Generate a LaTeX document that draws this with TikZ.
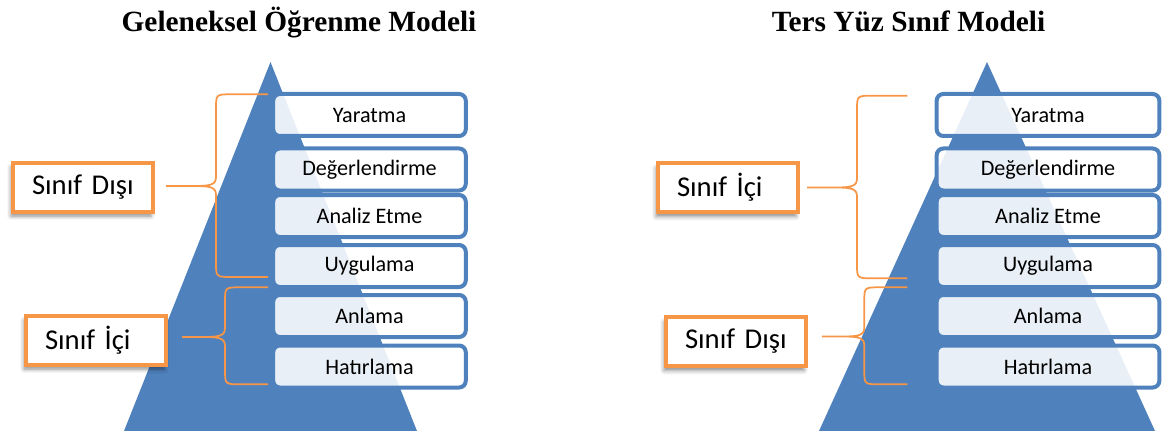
\documentclass[tikz,border=0pt]{standalone}
\usepackage{fontspec}
\setmainfont{Carlito}
\newfontfamily\baslikfont{Liberation Serif}
\usepackage{tikz}
\usetikzlibrary{calc,shadows,shadows.blur}
\definecolor{piramit}{RGB}{79,129,189}
\definecolor{turuncu}{RGB}{247,150,70}

\tikzset{
  kutu/.style={draw=piramit, line width=3pt, rounded corners=5pt, fill=white, fill opacity=0.88, text opacity=1,
    inner sep=0pt, minimum height=31.5pt, font=\fontsize{16.6}{19}\selectfont},
  etiket/.style={draw=turuncu, line width=3pt, fill=white, inner xsep=0pt, text width=76.5pt, align=left,
    minimum width=105pt, minimum height=36.75pt, font=\fontsize{21.5}{25}\selectfont,
    blur shadow={shadow xshift=-1.5pt, shadow yshift=-3.5pt, shadow blur radius=3pt, shadow opacity=45}},
  parantez/.style={draw=turuncu, line width=1.3pt},
  baslik/.style={font=\baslikfont\bfseries\fontsize{22}{26}\selectfont, anchor=base}
}

% #1 ust uc, #2 alt uc, #3 sirt, #4 sivri uc
\newcommand{\kavis}[4]{%
  \draw[parantez] (#1) -- ($(#1 -| #3)+(16,0)$) .. controls (#1 -| #3) .. ($(#1 -| #3)+(0,14)$)
    -- ($(#4 -| #3)+(0,-9)$) .. controls ($(#4 -| #3)+(0,-1)$) and ($(#4 -| #3)+(-6,0)$) .. ($(#4 -| #3)+(-22,0)$)
    -- (#4)
    ($(#4 -| #3)+(-22,0)$) .. controls ($(#4 -| #3)+(-6,0)$) and ($(#4 -| #3)+(0,1)$) .. ($(#4 -| #3)+(0,9)$)
    -- ($(#2 -| #3)+(0,-14)$) .. controls (#2 -| #3) .. ($(#2 -| #3)+(16,0)$) -- (#2);}

\begin{document}
\begin{tikzpicture}[x=0.75pt,y=-0.75pt]
\pgfmathsetmacro{\xsol}{369.5}%
\pgfmathsetmacro{\xsag}{1048}%
\useasboundingbox (0,0) rectangle (1162,431);

    %basliklar
    \node[baslik] (b1) at (299,31.5) {Geleneksel Öğrenme Modeli};
    \node[baslik] (b2) at (908.5,31.5) {Ters Yüz Sınıf Modeli};

    %piramitler
    \fill[piramit] (270.5,62) -- (417,431) -- (124,431) -- cycle;
    \fill[piramit] (987,62) -- (1155,431) -- (819,431) -- cycle;

    %sol kutular
    \node[kutu, minimum width=144.4pt] (y1) at (\xsol,115) {Yaratma};
    \node[kutu, minimum width=144.4pt] (d1) at (\xsol,169.5) {Değerlendirme};
    \node[kutu, minimum width=144.4pt] (a1) at (\xsol,216) {Analiz Etme};
    \node[kutu, minimum width=144.4pt] (u1) at (\xsol,266) {Uygulama};
    \node[kutu, minimum width=144.4pt] (n1) at (\xsol,316) {Anlama};
    \node[kutu, minimum width=144.4pt] (h1) at (\xsol,366.5) {Hatırlama};

    %sag kutular
    \node[kutu, minimum width=167pt] (y2) at (\xsag,115) {Yaratma};
    \node[kutu, minimum width=167pt] (d2) at (\xsag,169.5) {Değerlendirme};
    \node[kutu, minimum width=167pt] (a2) at (\xsag,216) {Analiz Etme};
    \node[kutu, minimum width=167pt] (u2) at (\xsag,266) {Uygulama};
    \node[kutu, minimum width=167pt] (n2) at (\xsag,316) {Anlama};
    \node[kutu, minimum width=167pt] (h2) at (\xsag,366.5) {Hatırlama};

    %etiketler
    \node[etiket] (soldis) at (83,187) {Sınıf Dışı};
    \node[etiket] (solici) at (96,340) {Sınıf İçi};
    \node[etiket] (sagici) at (728,187.5) {Sınıf İçi};
    \node[etiket] (sagdis) at (736,341.5) {Sınıf Dışı};

    %parantezler
    \coordinate (p1u) at (268,94.3);   \coordinate (p1a) at (268,277);   \coordinate (p1s) at (216,0);
    \coordinate (p2u) at (268,287.3);  \coordinate (p2a) at (268,384.3); \coordinate (p2s) at (225,0);
    \coordinate (p3u) at (907.4,95.7); \coordinate (p3a) at (907.4,278.3); \coordinate (p3s) at (857,0);
    \coordinate (p4u) at (907.4,287.3); \coordinate (p4a) at (907.4,384.3); \coordinate (p4s) at (864.3,0);
    \coordinate (p1c) at ($(soldis.east)+(11,-1)$);
    \coordinate (p2c) at ($(solici.east)+(14,-3)$);
    \coordinate (p3c) at ($(sagici.east)+(7,0)$);
    \coordinate (p4c) at ($(sagdis.east)+(14,-5)$);
    \kavis{p1u}{p1a}{p1s}{p1c}
    \kavis{p2u}{p2a}{p2s}{p2c}
    \kavis{p3u}{p3a}{p3s}{p3c}
    \kavis{p4u}{p4a}{p4s}{p4c}

\end{tikzpicture}
\end{document}
